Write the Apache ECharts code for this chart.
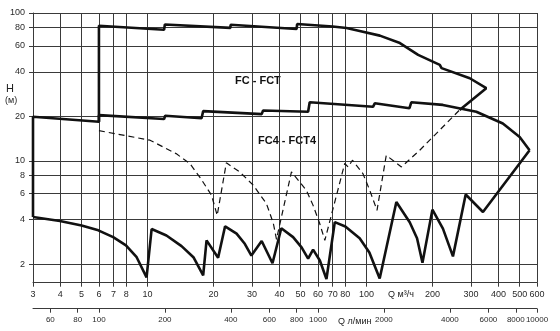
<!DOCTYPE html>
<html>
<head>
<meta charset="utf-8">
<script src="https://cdn.jsdelivr.net/npm/echarts@6/dist/echarts.min.js"></script>
<style>
html,body{margin:0;padding:0;background:#fff;}
#chart{width:560px;height:331px;}
</style>
</head>
<body>
<div id="chart"></div>
<script>
// Tick values
var qTicksM3h = [3,4,5,6,7,8,10,20,30,40,50,60,70,80,100,200,300,400,500,600];
var qTicksLmin = [60,80,100,200,400,600,800,1000,2000,4000,6000,8000,10000];
var hTicks = [2,4,6,8,10,20,40,60,80,100];

// FC - FCT upper envelope [Q m3/h, H m]
var fcTop = [[6,18.4],[6,82],[11.9,77],[12.0,83.7],[23.9,79.3],[23.95,83.3],[47.9,77.9],[48.2,84.2],
  [70,81.1],[81,79.1],[93,75.5],[115,70.3],[142,62.6],[172,52.1],[216,44.6],[220,42.4],[296,36.2],[352,31.0],[266,22.1]];

// middle curve (FC lower / FC4 upper boundary)
var midCurve = [[3,4.17],[3,19.9],[6,18.4],[6,20.4],[11.9,19.2],[12.04,20.2],[17.65,19.4],[17.95,21.7],
  [33.2,20.7],[33.7,21.9],[54.1,21.5],[55,24.9],[107,23.2],[109,24.5],[157,22.7],[160,24.9],[223,23.9],
  [317,21.5],[419,17.9],[500,14.5],[555,11.8]];

// lower envelope
var lowCurve = [[3,4.17],[3.98,3.92],[5.0,3.66],[5.96,3.39],[6.97,3.05],[7.97,2.68],[8.92,2.23],[9.9,1.63],
  [10.44,3.46],[12.2,3.13],[14.3,2.65],[16.2,2.23],[17.95,1.68],[18.6,2.9],[21.0,2.21],[22.6,3.61],[25.5,3.22],
  [27.8,2.75],[29.8,2.29],[33.2,2.87],[37.2,2.03],[40.8,3.5],[46.2,3.05],[50.5,2.6],[54.1,2.18],[57.0,2.51],[61.2,2.12],
  [65.6,1.59],[71.6,3.85],[80,3.6],[93,3.0],[103,2.4],[114.8,1.6],[136.8,5.27],[157.4,3.85],[170,3.0],[180,2.05],
  [199.8,4.68],[223.2,3.48],[248,2.26],[283.5,5.92],[340,4.51],[555,11.8]];

// FC4 - FCT4 upper envelope (dashed)
var dashCurve = [[6,16.0],[10.26,13.8],[13.5,11.2],[15.6,9.6],[17.5,7.6],[19.6,5.85],[20.8,4.28],[22.9,9.7],
  [26.4,8.4],[30.4,6.84],[34.9,5.14],[37.5,3.8],[38.8,2.95],[45.4,8.42],[49.5,7.2],[53.2,6.3],[57,5.0],[61,3.8],[64.5,2.9],
  [79.5,9.6],[82.4,9.1],[86.2,10.1],[96.2,8.21],[103.4,6.33],[111.6,4.63],[123,10.9],[144.3,9.1],[174.9,11.8],
  [208,15.3],[266,22.1]];

var chart = echarts.init(document.getElementById('chart'), null, {renderer:'canvas'});
var font = 'Liberation Sans, Arial, sans-serif';
var gridColor = '#3a3a3a';
var lbl = {color:'#2a2a2a', fontSize:9, fontFamily:font};
function fmt(v){ return String(Math.round(Number(v))); }

var option = {
  animation:false,
  backgroundColor:'#fff',
  grid:{left:33, right:23, top:13, bottom:48.3, containLabel:false},
  xAxis:[{
    type:'log', min:3, max:600, position:'bottom',
    axisLine:{show:true, onZero:false, lineStyle:{color:gridColor, width:1}},
    axisTick:{show:true, length:4, inside:false, customValues:qTicksM3h, lineStyle:{color:gridColor}},
    axisLabel:Object.assign({margin:7, customValues:qTicksM3h, formatter:fmt, interval:0, showMaxLabel:true, showMinLabel:true}, lbl),
    splitLine:{show:true, lineStyle:{color:gridColor, width:1}},
    minorTick:{show:false}, minorSplitLine:{show:false}
  },{
    type:'log', min:49.9999, max:10000.01, position:'bottom', offset:26,
    axisLine:{show:true, onZero:false, lineStyle:{color:gridColor, width:1}},
    axisTick:{show:true, length:4, inside:false, customValues:qTicksLmin, lineStyle:{color:gridColor}},
    axisLabel:Object.assign({}, lbl, {margin:7, fontSize:8, customValues:qTicksLmin, formatter:fmt, interval:0, showMaxLabel:true, showMinLabel:true}),
    splitLine:{show:false}
  }],
  yAxis:{
    type:'log', min:1.5, max:100,
    axisLine:{show:true, lineStyle:{color:gridColor, width:1}},
    axisTick:{show:true, length:4, customValues:hTicks, lineStyle:{color:gridColor}},
    axisLabel:Object.assign({margin:8, customValues:hTicks, formatter:fmt, interval:0}, lbl),
    splitLine:{show:true, lineStyle:{color:gridColor, width:1}}
  },
  graphic:[
    {type:'text', left:6, top:83, style:{text:'H', font:'11px '+font, fill:'#222'}},
    {type:'text', left:5, top:96, style:{text:'(м)', font:'9px '+font, fill:'#222'}},
    {type:'text', left:235, top:75, style:{text:'FC - FCT', font:'bold 11px '+font, fill:'#111'}},
    {type:'text', left:258, top:135, style:{text:'FC4 - FCT4', font:'bold 11px '+font, fill:'#111'}},
    {type:'text', left:388, top:290, style:{text:'Q м³/ч', font:'9px '+font, fill:'#222'}},
    {type:'text', left:338, top:317, style:{text:'Q л/мин', font:'9px '+font, fill:'#222'}}
  ],
  series:[
    {type:'line', data:fcTop, showSymbol:false, symbol:'none', clip:false, lineStyle:{color:'#111', width:2.6}},
    {type:'line', data:midCurve, showSymbol:false, symbol:'none', clip:false, lineStyle:{color:'#111', width:2.6}},
    {type:'line', data:lowCurve, showSymbol:false, symbol:'none', clip:false, lineStyle:{color:'#111', width:2.6}},
    {type:'line', data:dashCurve, showSymbol:false, symbol:'none', clip:false, lineStyle:{color:'#111', width:1.2, type:[6,4]}}
  ]
};
chart.setOption(option);
</script>
</body>
</html>
